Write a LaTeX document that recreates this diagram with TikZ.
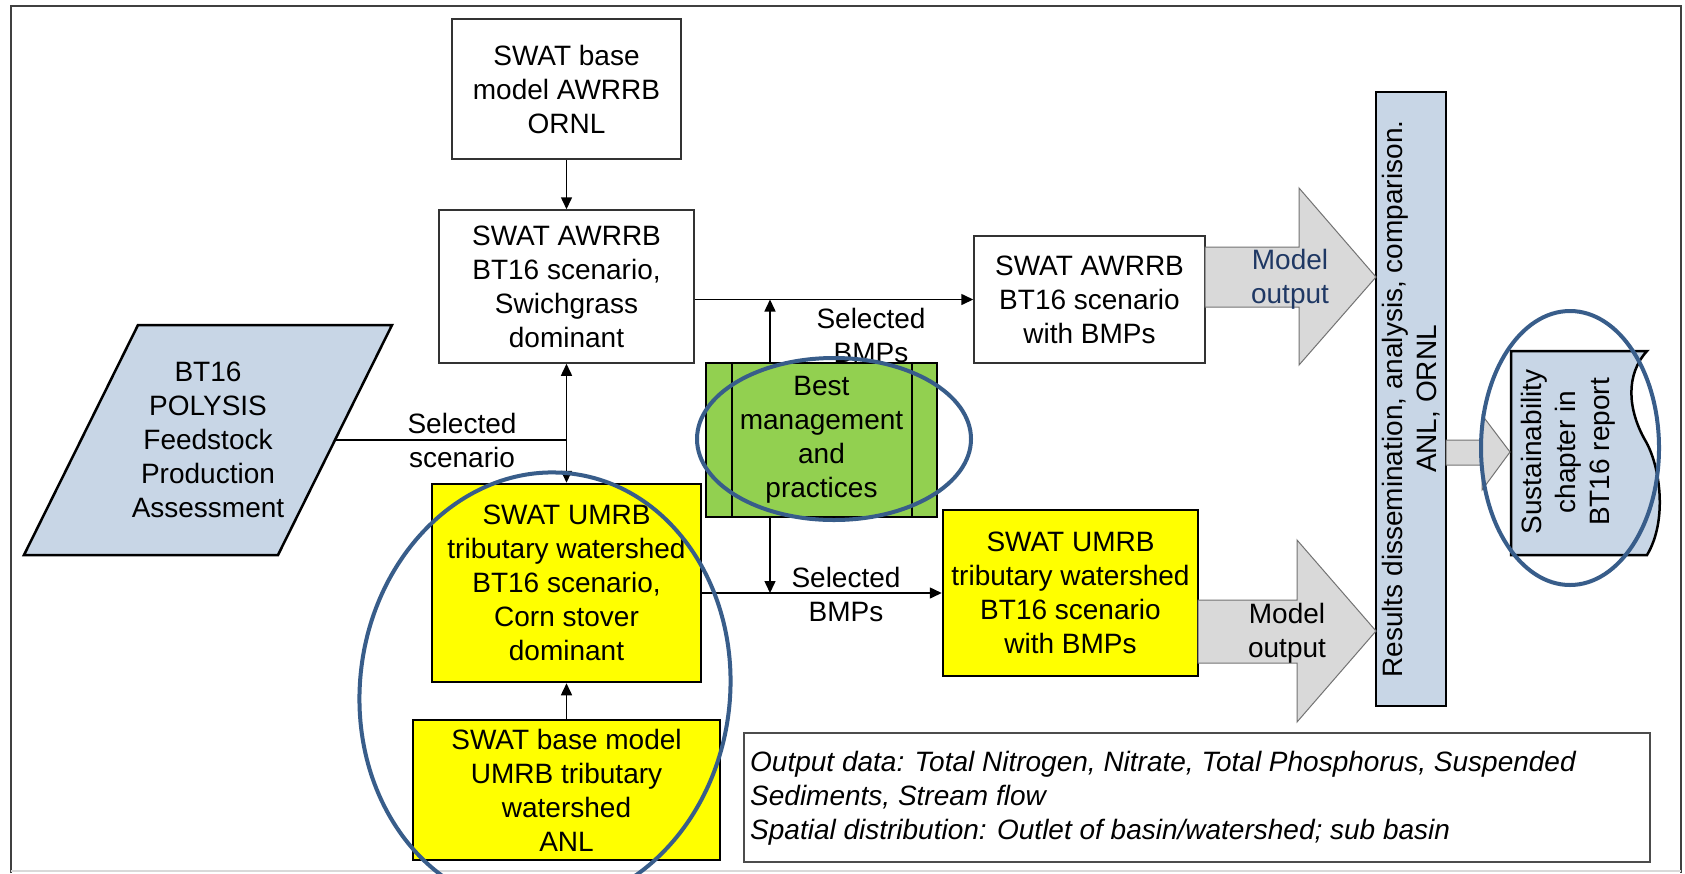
\documentclass[tikz,border=0pt]{standalone}
\usepackage{fontspec}
\setmainfont{Liberation Sans}
\usetikzlibrary{arrows.meta}
\definecolor{yfill}{HTML}{FFFF00}
\definecolor{gfill}{HTML}{92D050}
\definecolor{bfill}{HTML}{C8D6E6}
\definecolor{afill}{HTML}{D9D9D9}
\definecolor{ring}{HTML}{385D8A}
\definecolor{navy}{HTML}{1F3864}
\begin{document}
\begin{tikzpicture}[x=1pt,y=1pt,
  every node/.style={font=\fontsize{28}{34}\selectfont, align=center, inner sep=0pt},
  wbox/.style={draw=black!80, line width=1.5pt, fill=white},
  ybox/.style={draw=black, line width=2.5pt, fill=yfill},
  conn/.style={draw=black, line width=1.5pt},
  arr/.style={conn, -{Triangle[width=11pt,length=12pt]}},
  garr/.style={draw=black!55, line width=1pt, fill=afill},
  ringline/.style={draw=ring, line width=4pt}
]
\useasboundingbox (0,0) rectangle (1685,-873);
\clip (0,0) rectangle (1685,-873);
\fill[white] (0,0) rectangle (1685,-873);
% frame
\draw[black!75, line width=2pt] (11,-873) -- (11,-6) -- (1681,-6) -- (1681,-873);
\draw[black!15, line width=1.5pt] (11,-871) -- (1681,-871);

% parallelogram
\draw[line width=2.5pt, fill=bfill] (138,-325) -- (392,-325) -- (278,-555) -- (24,-555) -- cycle;
\node (para) at (208,-440) {BT16\\POLYSIS\\Feedstock\\Production\\Assessment};
\coordinate (pararight) at (335,-440);

% boxes
\node[wbox, minimum width=229pt, minimum height=140pt] (base) at (566.5,-89) {SWAT base\\model AWRRB\\ORNL};
\node[wbox, minimum width=255pt, minimum height=153pt] (awrrb) at (566.5,-286.5) {SWAT AWRRB\\BT16 scenario,\\Swichgrass\\dominant};
\node[ybox, minimum width=269pt, minimum height=198pt] (umrb) at (566.5,-583) {SWAT UMRB\\tributary watershed\\BT16 scenario,\\Corn stover\\dominant};
\node[ybox, minimum width=307pt, minimum height=140pt] (ubase) at (566.5,-790) {SWAT base model\\UMRB tributary\\watershed\\ANL};
\node[draw=black, line width=2.5pt, fill=gfill, minimum width=231pt, minimum height=154pt] (bmp) at (821.5,-440) {Best\\management\\and\\practices};
\draw[line width=2pt] ([xshift=27pt]bmp.north west) -- ([xshift=27pt]bmp.south west);
\draw[line width=2pt] ([xshift=-26pt]bmp.north east) -- ([xshift=-26pt]bmp.south east);
\node[wbox, minimum width=231pt, minimum height=127pt] (awbmp) at (1089.5,-299.5) {SWAT AWRRB\\BT16 scenario\\with BMPs};
\node[ybox, minimum width=255pt, minimum height=166pt] (ubmp) at (1070.5,-593) {SWAT UMRB\\tributary watershed\\BT16 scenario\\with BMPs};

% results bar
\node[draw=black, line width=2.5pt, fill=bfill, minimum width=70pt, minimum height=614pt] (bar) at (1411,-399) {};
\node[rotate=90] (bartext) at (bar.center) {Results dissemination, analysis, comparison.\\ANL, ORNL};

% document
\draw[line width=2.5pt, fill=bfill] (1511,-351) -- (1647,-351) .. controls (1625,-375) and (1628,-410) .. (1645,-440) .. controls (1660,-465) and (1668,-520) .. (1647,-555) -- (1511,-555) -- cycle;
\node[rotate=90] (doc) at (1568,-452) {Sustainability\\chapter in\\BT16 report};

% block arrows
\draw[garr] (1205,-247) -- (1299,-247) -- (1299,-188) -- (1376,-277) -- (1299,-365) -- (1299,-307) -- (1205,-307) -- cycle;
\draw[garr] (1198,-600) -- (1297,-600) -- (1297,-540) -- (1376,-631) -- (1297,-722) -- (1297,-663) -- (1198,-663) -- cycle;
\draw[garr] (1446,-440) -- (1482,-440) -- (1482,-415) -- (1510,-452) -- (1482,-490) -- (1482,-465) -- (1446,-465) -- cycle;
\node[text=navy] (mo1) at (1290,-279) {Model\\output};
\node (mo2) at (1287,-633) {Model\\output};

% output data box
\node[draw=black!70, line width=1.5pt, fill=white, minimum width=906pt, minimum height=129pt] (outbox) at (1197,-797.5) {};
\node[anchor=west, align=left, font=\fontsize{28}{34}\selectfont\itshape] (outtext) at (750,-798) {Output data: Total Nitrogen, Nitrate, Total Phosphorus, Suspended\\Sediments, Stream flow\\Spatial distribution: Outlet of basin/watershed; sub basin};

% connectors
\coordinate (j1) at (566.5,-440);
\coordinate (j2) at (770,-299.5);
\coordinate (j3) at (770,-593);
\draw[arr] (base) -- (awrrb);
\draw[conn] (pararight) -- (j1);
\draw[arr] (j1) -- (awrrb.south);
\draw[arr] (j1) -- (umrb.north);
\draw[arr] (ubase) -- (umrb);
\draw[arr] (awrrb.east |- awbmp.west) -- (awbmp.west);
\draw[arr] (bmp.north -| j2) -- (j2);
\draw[arr] (umrb.east |- ubmp.west) -- (ubmp.west);
\draw[arr] (bmp.south -| j3) -- (j3);
\node (selsc) at (462,-440) {Selected\\scenario};
\node (selb1) at (871,-335) {Selected\\BMPs};
\node (selb2) at (846,-594) {Selected\\BMPs};

% highlight rings
\draw[ringline, rotate around={-7:(545,-690)}] (545,-690) ellipse [x radius=185pt, y radius=218pt];
\draw[ringline] (834,-439) ellipse [x radius=137pt, y radius=81pt];
\draw[ringline] (1570,-448) ellipse [x radius=89pt, y radius=137pt];
\end{tikzpicture}
\end{document}
